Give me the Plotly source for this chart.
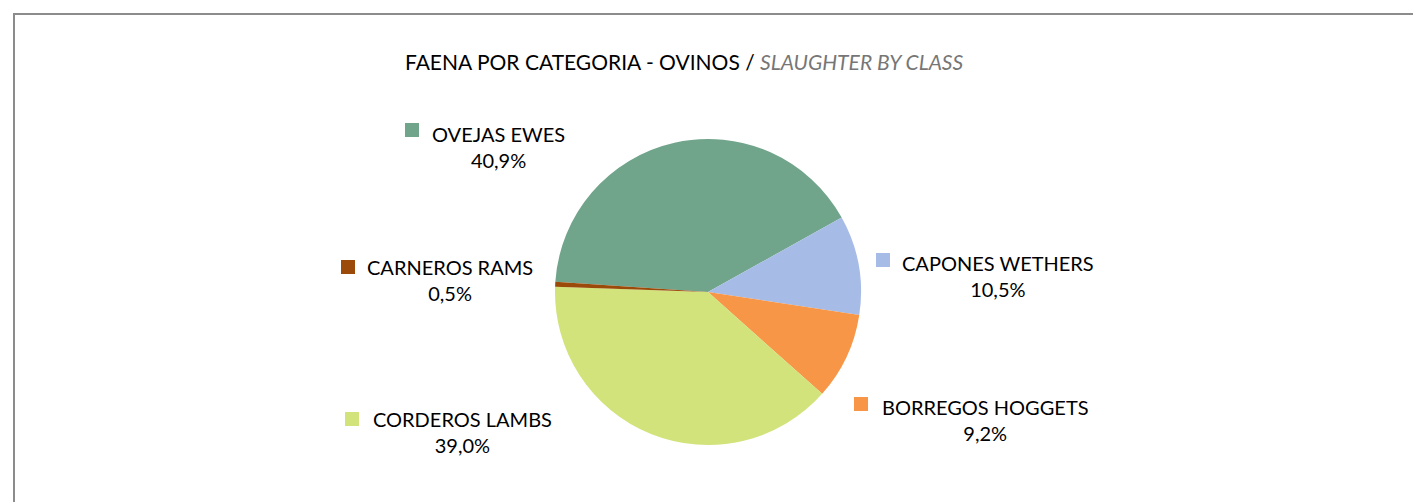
import plotly.graph_objects as go

# ---- data ----
categories = ["OVEJAS EWES", "CAPONES WETHERS", "BORREGOS HOGGETS", "CORDEROS LAMBS", "CARNEROS RAMS"]
shares = [40.9, 10.5, 9.2, 39.0, 0.5]

# ---- styles / layout ----
colors = ["#71A58B", "#A6BBE6", "#F79646", "#D1E37A", "#9C4A0A"]
OFF = 8  # page body margin of the html page
W, H = 1421, 502
pie_cx, pie_cy, pie_r = 708 - OFF, 292 - OFF, 153
# pixel centres of label text blocks and of their colour keys
text_pos = [(498, 147), (998, 276), (985, 420), (462, 432), (450, 280)]
key_pos = [(412, 130), (883, 260), (861, 404), (352, 419), (348, 267)]
KEY = 14
FONT = "Lato"
LBL_SIZE = 20

fig = go.Figure(go.Pie(
    labels=categories,
    values=shares,
    sort=False,
    direction="clockwise",
    rotation=273.8,
    marker=dict(colors=colors, line=dict(width=0)),
    textinfo="none",
    hoverinfo="label+percent",
    showlegend=False,
    domain=dict(
        x=[(pie_cx - pie_r) / W, (pie_cx + pie_r) / W],
        y=[(H - pie_cy - pie_r) / H, (H - pie_cy + pie_r) / H],
    ),
))

annotations = [
    dict(
        x=(684 - OFF) / W, y=1 - (61 - OFF) / H, xref="paper", yref="paper",
        xanchor="center", yanchor="middle", showarrow=False,
        text="FAENA POR CATEGORIA - OVINOS / <i><span style='color:#767676'>SLAUGHTER BY CLASS</span></i>",
        font=dict(family=FONT, size=21, color="#000000"),
    )
]
shapes = [dict(
    type="rect", xref="paper", yref="paper",
    x0=(14 - OFF) / W, x1=1.05, y0=-0.05, y1=1 - (14 - OFF) / H,
    line=dict(color="#8C8C8C", width=2), fillcolor="rgba(0,0,0,0)",
)]
for cat, val, col, (px, py), (kx, ky) in zip(categories, shares, colors, text_pos, key_pos):
    pct = f"{val:.1f}".replace(".", ",") + "%"
    annotations.append(dict(
        x=(px - OFF) / W, y=1 - (py - OFF) / H, xref="paper", yref="paper",
        xanchor="center", yanchor="middle", showarrow=False, align="center",
        text=f"{cat}<br>{pct}",
        font=dict(family=FONT, size=LBL_SIZE, color="#000000"),
    ))
    shapes.append(dict(
        type="rect", xref="paper", yref="paper",
        x0=(kx - OFF - KEY / 2) / W, x1=(kx - OFF + KEY / 2) / W,
        y0=1 - (ky - OFF + KEY / 2) / H, y1=1 - (ky - OFF - KEY / 2) / H,
        line=dict(width=0), fillcolor=col,
    ))

fig.update_layout(
    width=W, height=H,
    margin=dict(l=0, r=0, t=0, b=0),
    paper_bgcolor="white",
    plot_bgcolor="white",
    annotations=annotations,
    shapes=shapes,
)

fig.write_html("out.html")
